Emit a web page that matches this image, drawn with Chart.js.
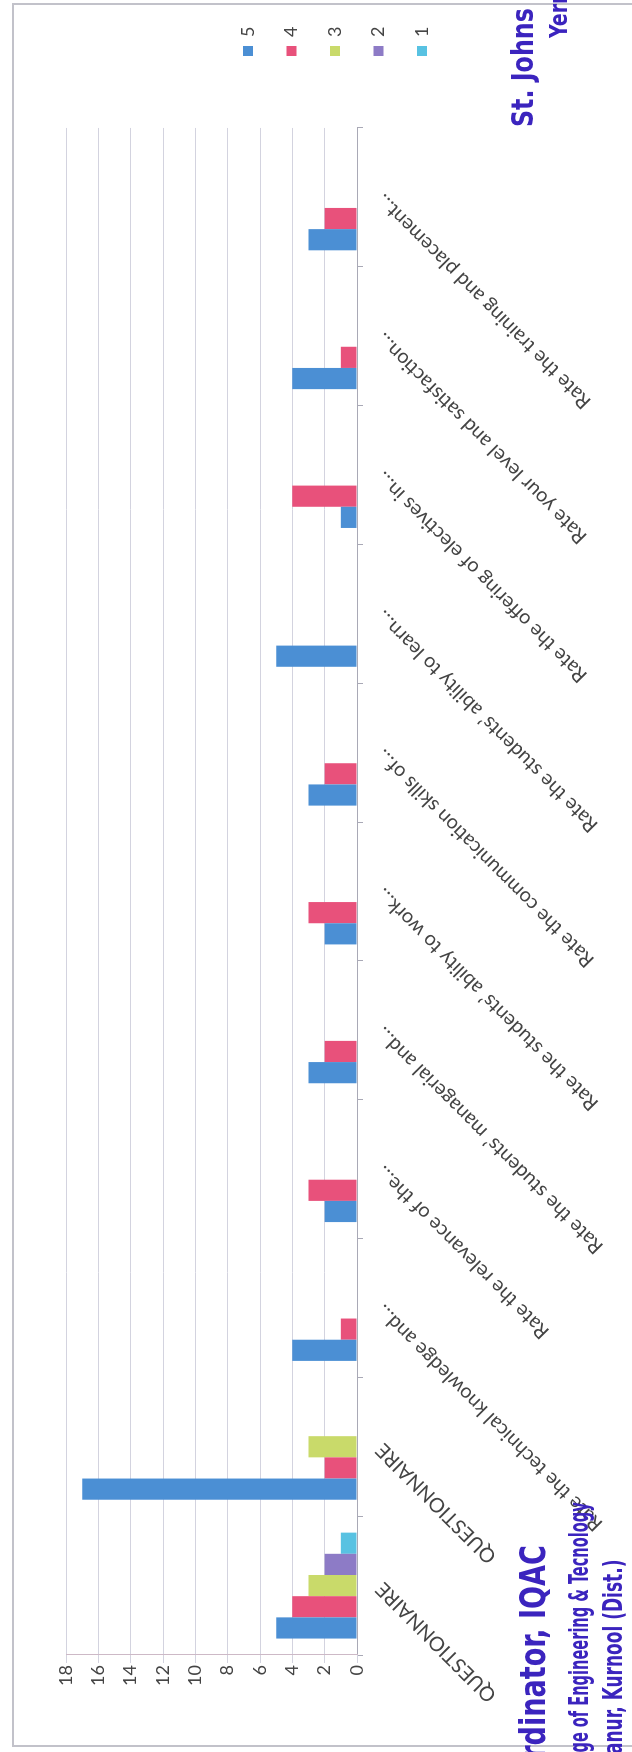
<!DOCTYPE html>
<html>
<head>
<meta charset="utf-8">
<script src="https://cdn.jsdelivr.net/npm/chart.js@4.4.1/dist/chart.umd.min.js"></script>
<style>
  html, body { margin: 0; padding: 0; background: #fff; }
  body { width: 632px; height: 1752px; overflow: hidden; position: relative; }
  #frame { position: absolute; left: 12px; top: 3px; width: 700px; height: 1744px;
           border: 2px solid #c2c2ca; box-sizing: border-box; }
  /* the chart is drawn upright, then turned a quarter to the left like the scan */
  #turn { position: absolute; left: 0; top: 0; width: 1752px; height: 632px; overflow: hidden;
          transform-origin: 0 0; transform: translateY(1752px) rotate(-90deg); }
  .stamp { position: absolute; white-space: nowrap; color: #3b24be; font-weight: bold;
           font-family: "Liberation Sans Narrow", "DejaVu Sans Condensed", sans-serif;
           transform-origin: 100% 50%; }
  .stamp.top { transform-origin: 0 50%; }
</style>
</head>
<body>
<div id="frame"></div>
<div id="turn">
  <canvas id="canvas" width="1752" height="632"></canvas>
  <div class="stamp" style="right:1545px; top:513px; font-size:35px; transform:scaleX(0.86)">Co-ordinator, IQAC</div>
  <div class="stamp" style="right:1502px; top:563px; font-size:27px; transform:scaleX(0.6)">St. Johns College of Engineering &amp; Tecnology</div>
  <div class="stamp" style="right:1560px; top:597px; font-size:27px; transform:scaleX(0.7)">Yerrakota, Yemmiganur, Kurnool (Dist.)</div>
  <div class="stamp top" style="left:1625px; top:505px; font-size:30px; transform:scaleX(0.88)">St. Johns College of Engineering</div>
  <div class="stamp top" style="left:1714px; top:545px; font-size:24px; transform:scaleX(0.88)">Yerrakota</div>
</div>
<script>
const categories = [
  'QUESTIONNAIRE',
  'QUESTIONNAIRE',
  'Rate the technical knowledge and…',
  'Rate the relevance of the…',
  'Rate the students’ managerial and…',
  'Rate the students’ ability to work…',
  'Rate the communication skills of…',
  'Rate the students’ ability to learn…',
  'Rate the offering of electives in…',
  'Rate your level and satisfaction…',
  'Rate the training and placement…'
];
const seriesNames = ['5', '4', '3', '2', '1'];
const rating5 = [5, 17, 4, 2, 3, 2, 3, 5, 1, 4, 3];
const rating4 = [4, 2, 1, 3, 2, 3, 2, 0, 4, 1, 2];
const rating3 = [3, 3, 0, 0, 0, 0, 0, 0, 0, 0, 0];
const rating2 = [2, 0, 0, 0, 0, 0, 0, 0, 0, 0, 0];
const rating1 = [1, 0, 0, 0, 0, 0, 0, 0, 0, 0, 0];
const valueTicks = [0, 2, 4, 6, 8, 10, 12, 14, 16, 18];

const seriesValues = [rating5, rating4, rating3, rating2, rating1];
const seriesColors = ['#4b8fd4', '#e8517b', '#c9da6a', '#8d7bc6', '#58c2e2'];

const textFont = {family: 'Lato', size: 18};
const labelFont = {family: 'Lato', size: 20};
const textColor = '#444444';

// legend sits in the old Excel spot, right of the plot
const legendSpot = {
  id: 'legendSpot',
  afterLayout(chart) {
    const lg = chart.legend;
    const dx = 1670.5 - lg.left;
    const dy = 213.5 - lg.top;
    lg.left += dx; lg.right += dx;
    lg.top += dy; lg.bottom += dy;
  }
};

window.onload = () => {
  const ctx = document.getElementById('canvas').getContext('2d');
  window.myBar = new Chart(ctx, {
    type: 'bar',
    data: {
      labels: categories,
      datasets: seriesNames.map((name, i) => ({
        label: name,
        data: seriesValues[i],
        backgroundColor: seriesColors[i],
        borderWidth: 0,
        categoryPercentage: 0.763,
        barPercentage: 1
      }))
    },
    options: {
      responsive: false,
      animation: false,
      layout: {padding: {top: 66, right: 63, left: 0, bottom: 0}},
      plugins: {
        legend: {
          position: 'right',
          align: 'start',
          labels: {boxWidth: 10, boxHeight: 10, padding: 25.5, color: textColor, font: textFont}
        },
        tooltip: {enabled: false}
      },
      scales: {
        x: {
          grid: {offset: true, drawOnChartArea: false, drawTicks: true, tickLength: 6, color: '#a9a9b6'},
          border: {color: '#a9a9b6'},
          ticks: {minRotation: 45, maxRotation: 45, autoSkip: false, padding: 8,
                  color: textColor, font: labelFont},
          afterFit(scale) { scale.height = 275; }
        },
        y: {
          min: valueTicks[0],
          max: valueTicks[valueTicks.length - 1],
          afterBuildTicks(scale) { scale.ticks = valueTicks.map(v => ({value: v})); },
          ticks: {padding: 2, color: textColor, font: textFont},
          grid: {color: '#d3d3df', tickLength: 8},
          border: {color: '#cdb9c6'},
          afterFit(scale) { scale.width = 97; }
        }
      }
    },
    plugins: [legendSpot]
  });
};
</script>
</body>
</html>
